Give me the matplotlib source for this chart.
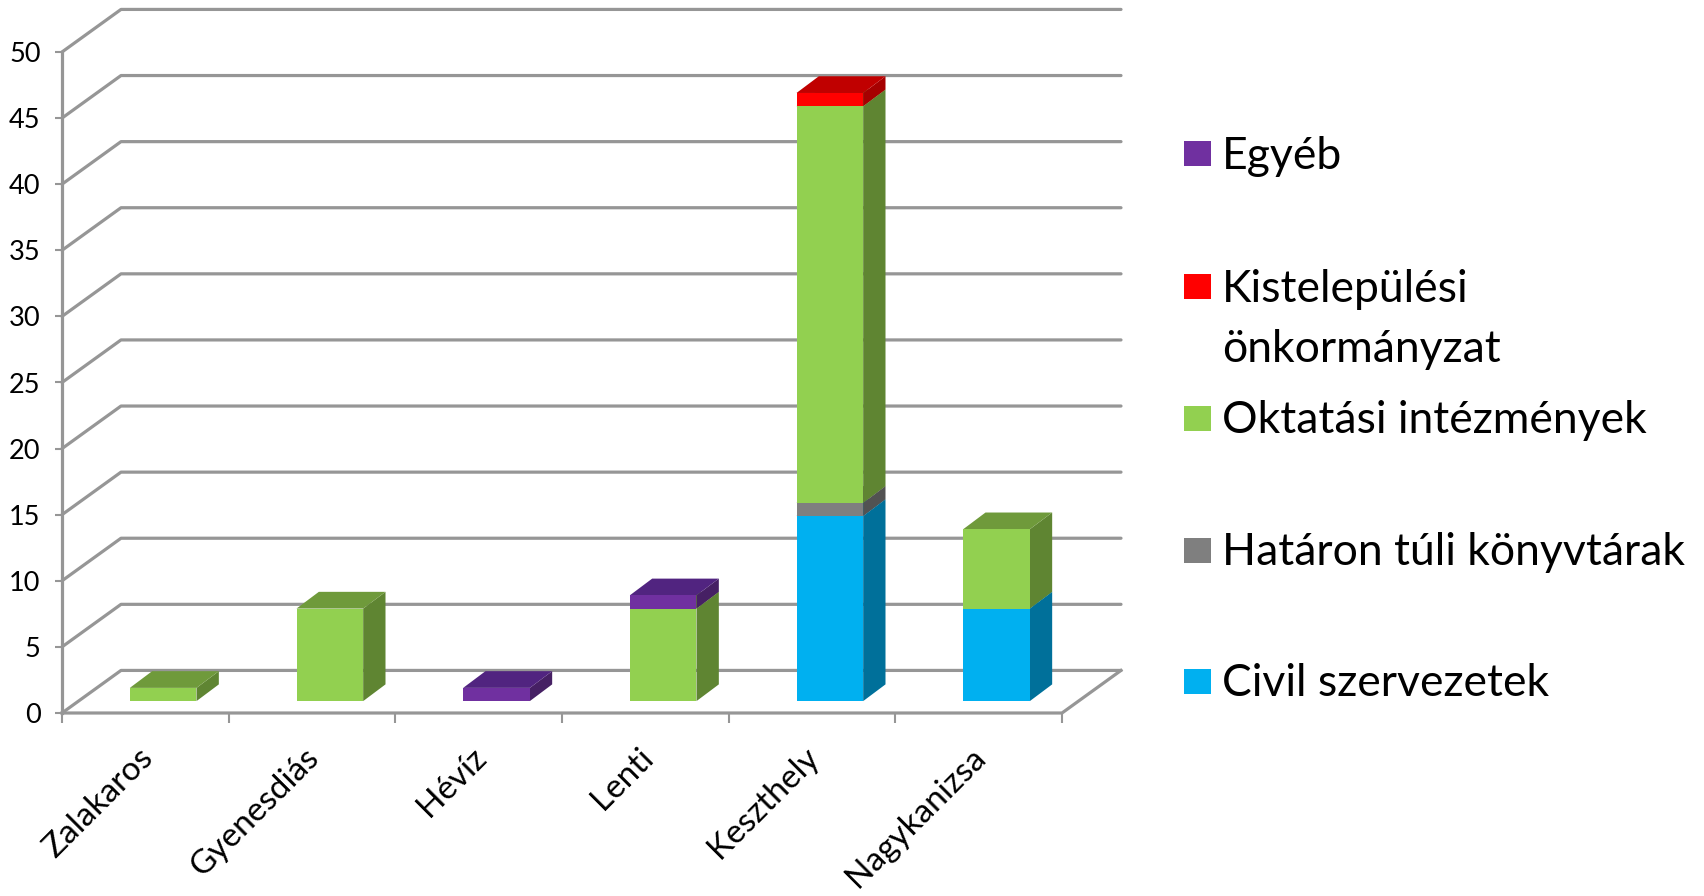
import numpy as np
import matplotlib
matplotlib.use('Agg')
import matplotlib.pyplot as plt
from matplotlib.patches import Polygon, Rectangle
from matplotlib.transforms import ScaledTranslation

plt.rcParams['font.family'] = ['Lato', 'DejaVu Sans']

cities = ['Zalakaros', 'Gyenesdiás', 'Hévíz', 'Lenti', 'Keszthely', 'Nagykanizsa']

# values per category, bottom of the stack first
civil = [0, 0, 0, 0, 14, 7]
hataron = [0, 0, 0, 0, 1, 0]
oktatasi = [1, 7, 0, 7, 30, 6]
kistelepulesi = [0, 0, 0, 0, 1, 0]
egyeb = [0, 0, 1, 1, 0, 0]
series = [civil, hataron, oktatasi, kistelepulesi, egyeb]

y_ticks = [0, 5, 10, 15, 20, 25, 30, 35, 40, 45, 50]

front_colors = ['#00B0F0', '#7F7F7F', '#92D050', '#FF0000', '#7030A0']
side_colors = ['#00709A', '#525252', '#5F8532', '#A60000', '#462064']
top_colors = ['#008DC0', '#666666', '#6F9A3B', '#C00000', '#512480']

# legend goes top to bottom, so reverse of the stack
legend_labels = ['Egyéb', 'Kistelepülési\nönkormányzat', 'Oktatási intézmények',
                 'Határon túli könyvtárak', 'Civil szervezetek']
legend_colors = ['#7030A0', '#FF0000', '#92D050', '#7F7F7F', '#00B0F0']

W, H = 1704, 896
fig = plt.figure(figsize=(W / 100, H / 100), dpi=100, facecolor='white')

# axes box is the front plane of the fake 3D chart
ax = fig.add_axes([62 / W, 1 - 713 / H, 1000 / W, 661 / H])
ax.set_xlim(0, 6)
ax.set_ylim(0, 50)
for s in ax.spines.values():
    s.set_visible(False)
ax.patch.set_visible(False)

# depth of the floor and of the bars, in data units
depth_x, depth_y = 0.354, 3.22
bar_w, bar_dx, bar_dy = 0.40, 0.134, 1.265
base_x, base_y = 0.107, 0.9

grid_c = '#969696'
grid_w = 2.3

for v in y_ticks:
    ax.plot([0, depth_x, 6 + depth_x], [v, v + depth_y, v + depth_y], color=grid_c,
            lw=grid_w, clip_on=False, zorder=1, solid_capstyle='round', solid_joinstyle='round')
# floor front edge and right edge
ax.plot([0, 6, 6 + depth_x], [0, 0, depth_y], color=grid_c, lw=grid_w, clip_on=False, zorder=1)
# value axis
ax.plot([0, 0], [0, 50], color=grid_c, lw=grid_w, clip_on=False, zorder=1)

x_centers = np.arange(len(cities)) + 0.5

z = 3
for i, xc in enumerate(x_centers):
    bottom = base_y
    for k, vals in enumerate(series):
        v = vals[i]
        if v == 0:
            continue
        x0 = xc + base_x - bar_w / 2
        x1 = x0 + bar_w
        y0, y1 = bottom, bottom + v
        side = [(x1, y0), (x1 + bar_dx, y0 + bar_dy), (x1 + bar_dx, y1 + bar_dy), (x1, y1)]
        top = [(x0, y1), (x1, y1), (x1 + bar_dx, y1 + bar_dy), (x0 + bar_dx, y1 + bar_dy)]
        ax.add_patch(Polygon(side, closed=True, fc=side_colors[k], ec='none', zorder=z, clip_on=False))
        ax.add_patch(Polygon(top, closed=True, fc=top_colors[k], ec='none', zorder=z, clip_on=False))
        ax.bar(x0, v, width=bar_w, bottom=y0, align='edge', color=front_colors[k],
               linewidth=0, zorder=z + 1, clip_on=False)
        z += 2
        bottom = y1

ax.set_yticks(y_ticks)
ax.set_xticks(np.arange(7))
ax.set_xticklabels([])
ax.set_xticks(x_centers, minor=True)
ax.set_xticklabels(cities, minor=True, rotation=45, ha='right', va='top',
                   rotation_mode='anchor', fontsize=24, color='black')
ax.tick_params(axis='x', which='major', length=7.5, width=1.5, color=grid_c, direction='out')
ax.tick_params(axis='x', which='minor', length=0, pad=21)
ax.tick_params(axis='y', length=5, width=1.5, color=grid_c, pad=10.5, labelsize=19.5, labelcolor='black')

# nudge the slanted labels left, they sit a bit off the category centre
nudge = ScaledTranslation(-8 / 100, 0, fig.dpi_scale_trans)
for lbl in ax.get_xticklabels(minor=True):
    lbl.set_transform(lbl.get_transform() + nudge)

# legend, placed by hand in figure pixels
legend_y = [154, 287, 419, 551, 682]
text_y = [152, 285, 416, 548, 680]
for lab, col, ly, ty in zip(legend_labels, legend_colors, legend_y, text_y):
    fig.add_artist(Rectangle((1184 / W, 1 - (ly + 12) / H), 27 / W, 25 / H, fc=col, ec='none',
                             transform=fig.transFigure))
    lines = lab.split('\n')
    for n, line in enumerate(lines):
        fig.text(1222 / W, 1 - (ty + n * 60) / H, line, fontsize=32, va='center_baseline',
                 ha='left', color='black')

fig.savefig('out.png', dpi=100)
